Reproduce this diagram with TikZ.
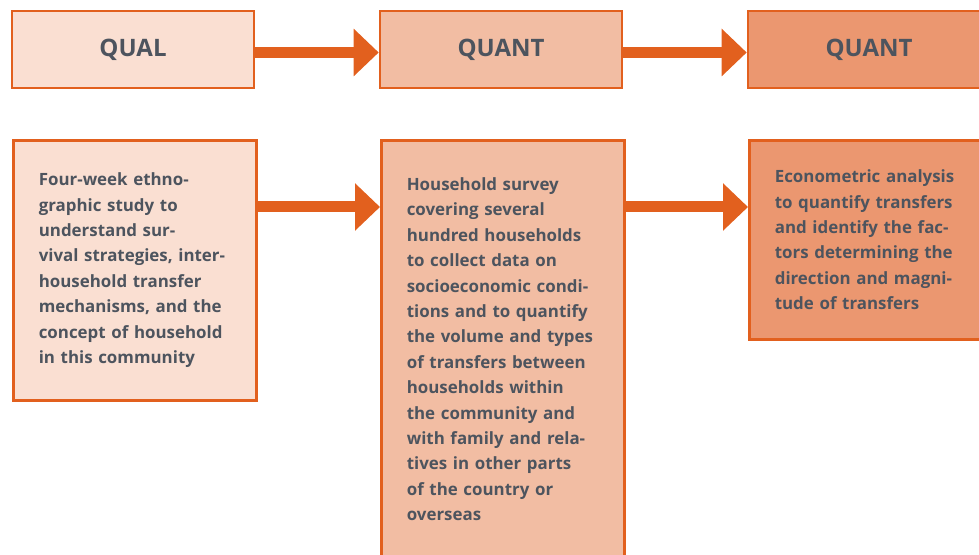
\documentclass[tikz,border=0pt]{standalone}
\usepackage{fontspec}
\setmainfont{Open Sans}
\usepackage{xcolor}
\usetikzlibrary{positioning,arrows.meta}

\definecolor{edgeorange}{HTML}{E2601E}
\definecolor{fillqual}{HTML}{FADFD2}
\definecolor{fillquant}{HTML}{F2BDA3}
\definecolor{fillecon}{HTML}{EB9770}
\definecolor{textgrey}{HTML}{4D545E}

\tikzset{
  stage/.style={draw=edgeorange, line width=2.6pt, minimum width=242pt,
    minimum height=77pt, inner sep=0pt, text=textgrey,
    font=\fontsize{24}{28}\selectfont\bfseries},
  detail/.style={draw=edgeorange, line width=2.6pt, minimum width=242pt,
    anchor=north west, inner xsep=25.5pt, inner ysep=0pt, text width=192pt,
    align=left, text=textgrey, font=\fontsize{16.9}{25.4}\selectfont\bfseries},
  flow/.style={draw=edgeorange, line width=11pt,
    -{Triangle[length=25pt,width=46pt]}}
}

\begin{document}
\begin{tikzpicture}[x=1pt, y=1pt]

  \useasboundingbox (0,0) rectangle (979,554);

  % === En-tetes ===
  \node[stage, fill=fillqual]  (qual)   at (133,504.5) {QUAL};
  \node[stage, fill=fillquant] (quanta) at (501,504.5) {QUANT};
  \node[stage, fill=fillecon]  (quantb) at (869,504.5) {QUANT};

  % === Descriptions ===
  \node[detail, fill=fillqual, minimum height=260pt] (ethno) at (12,415)
    {Four-week ethno-\\graphic study to\\understand sur-\\vival strategies, inter-\\household transfer\\mechanisms, and the\\concept of household\\in this community};
  \node[detail, fill=fillquant, minimum height=418pt] (survey) at (380,415)
    {Household survey\\covering several\\hundred households\\to collect data on\\socioeconomic condi-\\tions and to quantify\\the volume and types\\of transfers between\\households within\\the community and\\with family and rela-\\tives in other parts\\of the country or\\overseas};
  \node[detail, fill=fillecon, minimum height=199pt] (econ) at (748,415)
    {Econometric analysis\\to quantify transfers\\and identify the fac-\\tors determining the\\direction and magni-\\tude of transfers};

  % === Fleches ===
  \draw[flow] ([yshift=-3pt]qual.east) -- ([yshift=-3pt]quanta.west);
  \draw[flow] ([yshift=-3pt]quanta.east) -- ([yshift=-3pt]quantb.west);
  \draw[flow] ([yshift=-68pt]ethno.north east) -- ([yshift=-68pt]survey.north west);
  \draw[flow] ([yshift=-68pt]survey.north east) -- ([yshift=-68pt]econ.north west);

\end{tikzpicture}
\end{document}
